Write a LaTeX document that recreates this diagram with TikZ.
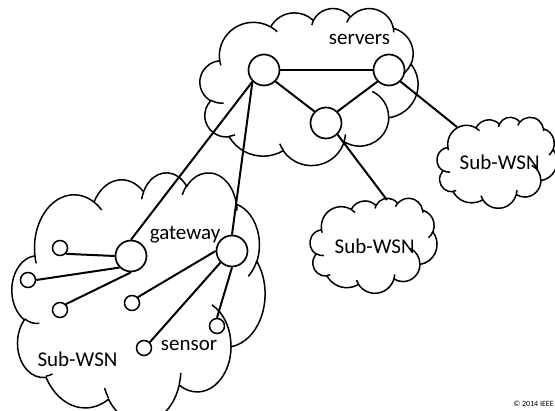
\documentclass[tikz,border=0pt]{standalone}
\usepackage{fontspec}
\setmainfont{Carlito}
\usepackage{tikz}
% one arc of the cloud outline, angles given as seen (not parametric)
\newcommand{\CA}[4]{arc[x radius=#1,y radius=#2,
  start angle={atan2(#1*sin(#3),#2*cos(#3))},
  delta angle={#4+mod(atan2(#1*sin(#3+#4),#2*cos(#3+#4))-atan2(#1*sin(#3),#2*cos(#3))-(#4)+540,360)-180}]}
% cloud outline in a 432 x 432 box, y pointing down
\newcommand{\CLOUD}{(39,143.7)
  \CA{67.53}{91.90}{-190.4875}{123.7805}
  \CA{53.33}{72.67}{-144.1024}{89.9452}
  \CA{43.65}{59.45}{-145.8079}{99.7230}
  \CA{48.57}{65.95}{-130.9861}{117.2417}
  \CA{53.33}{72.73}{-78.7089}{109.0269}
  \CA{67.75}{92.20}{-46.2673}{130.2690}
  \CA{57.85}{78.67}{0.6250}{114.0333}
  \CA{67.52}{92.15}{22.4516}{115.1726}
  \CA{77.20}{105.43}{66.2426}{75.7110}
  \CA{43.60}{59.18}{-274.9421}{146.7356}
  \CA{43.45}{59.45}{-246.8285}{152.5189} -- cycle
  (46.93,261.77) \CA{43.45}{59.45}{86.742}{26.4295}
  (69.28,348.99) \CA{43.60}{59.18}{73.6105}{11.4475}
  (164.78,390.90) \CA{67.52}{92.15}{137.6242}{14.0811}
  (288.27,347.51) \CA{67.52}{92.15}{6.4533}{15.9984}
  (341.29,229.54) \CA{57.85}{78.67}{-70.2924}{70.9174}
  (417.98,153.54) \CA{53.33}{72.73}{30.3180}{27.7515}
  (383.24,54.26) \CA{48.57}{65.95}{-13.7443}{14.8589}
  (290.78,39.52) \CA{48.57}{65.95}{-149.1815}{18.1954}
  (221.41,47.20) \CA{43.65}{59.45}{-163.4943}{17.6864}
  (140.00,51.92) \CA{67.53}{91.90}{-66.7070}{12.3194}
  (41.27,157.89) \CA{67.53}{91.90}{157.6544}{11.8582}}

\begin{document}
\begin{tikzpicture}[x=1pt,y=-1pt,
    cloudline/.style={line width=1.5pt,line join=round},
    link/.style={line width=2pt},
    srv/.style={draw,circle,line width=1.7pt,minimum size=31pt,inner sep=0pt},
    sns/.style={draw,circle,line width=1.5pt,minimum size=15pt,inner sep=0pt},
    lbl/.style={anchor=base,inner sep=0pt,font=\fontsize{21}{24}\selectfont}]
    \useasboundingbox (0,0) rectangle (555,411);
    % clouds
    \draw[cloudline,shift={(200,8)},xscale=0.50463,yscale=0.36343] \CLOUD;
    \draw[cloudline,shift={(12,172)},xscale=0.58565,yscale=0.5787] \CLOUD;
    \draw[cloudline,shift={(310,198)},xscale=0.29398,yscale=0.21991] \CLOUD;
    \draw[cloudline,shift={(437,117)},xscale=0.27778,yscale=0.21065] \CLOUD;
    % servers
    \node[srv] (s1) at (264,70) {};
    \node[srv] (s2) at (389,70) {};
    \node[srv] (s3) at (326,123) {};
    % gateways
    \node[srv] (g1) at (131,256) {};
    \node[srv] (g2) at (232,251) {};
    % sensors
    \node[sns] (n1) at (60,248) {};
    \node[sns] (n2) at (28,280) {};
    \node[sns] (n3) at (60,310) {};
    \node[sns] (n4) at (132,303) {};
    \node[sns] (n5) at (144,348) {};
    \node[sns] (n6) at (217,326) {};
    \coordinate (wM) at (387,200);
    \coordinate (wR) at (457,127);
    \draw[link] (s1.east) -- (s2.west);
    \draw[link] (s1.south east) -- (s3.north west);
    \draw[link] (s2.south west) -- (s3.north east);
    \draw[link] (s3.south east) -- (wM);
    \draw[link] (s2.south east) -- (wR);
    \draw[link] (s1.south west) -- (g1.north);
    \draw[link] (s1.south west) -- (g2.north);
    \draw[link] (g1.west) -- (n1.south east);
    \draw[link] (g1.south west) -- (n2.east);
    \draw[link] (g1.south) -- (n3.north east);
    \draw[link] (g2.west) -- (n4.north east);
    \draw[link] (g2.south west) -- (n5.north east);
    \draw[link] (g2.south) -- (n6.north);
    % labels
    \node[lbl] (tsrv) at (359.5,45) {servers};
    \node[lbl] (tgw) at (185,240) {gateway};
    \node[lbl] (tsns) at (189,351) {sensor};
    \node[lbl] (tw1) at (77.5,367) {Sub-WSN};
    \node[lbl] (tw2) at (374.7,254) {Sub-WSN};
    \node[lbl] (tw3) at (499.7,170) {Sub-WSN};
    \node[anchor=base east,inner sep=0pt,font=\fontsize{8}{9}\selectfont] (cpr) at (554,406.5) {\textcopyright{} 2014 IEEE};
\end{tikzpicture}
\end{document}
